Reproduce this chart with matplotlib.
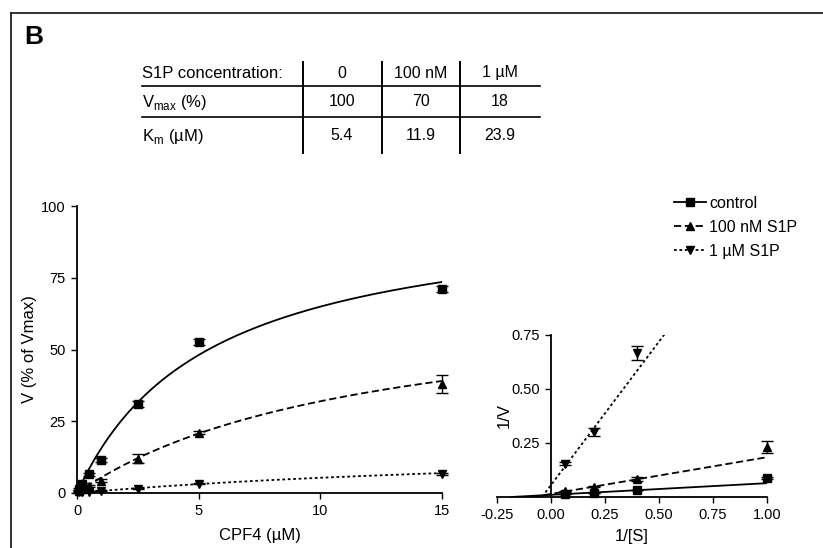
"""
Michaelis-Menten kinetics of CPF4 with S1P, plus Lineweaver-Burk inset.
"""
import numpy as np
import matplotlib
matplotlib.use("Agg")
import matplotlib.pyplot as plt
from matplotlib.lines import Line2D

plt.rcParams['font.family'] = ['Liberation Sans', 'DejaVu Sans']

W, H = 823, 548

# substrate concentrations (uM)
substrate = np.array([0.1, 0.2, 0.5, 1.0, 2.5, 5.0, 15.0])

# measured rates (% of Vmax) and errors
v_control = np.array([1.5, 3.0, 6.5, 11.5, 31.0, 52.5, 71.0])
e_control = np.array([0.4, 0.4, 0.5, 0.6, 1.0, 1.0, 1.0])
v_100nm = np.array([0.8, 1.5, 2.5, 4.3, 12.0, 21.0, 38.0])
e_100nm = np.array([0.2, 0.2, 0.3, 0.5, 1.5, 0.6, 3.0])
v_1um = np.array([0.2, 0.3, 0.5, 0.8, 1.5, 3.3, 6.5])
e_1um = np.array([0.05, 0.05, 0.08, 0.1, 0.07, 0.2, 0.3])

# table values (fit parameters)
conc_labels = ['0', '100 nM', '1 \u00b5M']
vmax_vals = [100, 70, 18]
km_vals = [5.4, 11.9, 23.9]

series_labels = ['control', '100 nM S1P', '1 \u00b5M S1P']
markers = ['s', '^', 'v']
linestyles = ['-', (0, (4, 2)), (0, (1.5, 1.5))]


def fx(px):
    return px / W


def fy(py):
    return 1 - py / H


fig = plt.figure(figsize=(W / 100, H / 100), dpi=100)

# panel border (top and left edges only visible)
fig.add_artist(Line2D([fx(11), 1.0], [fy(13), fy(13)], color='#222', lw=1.3))
fig.add_artist(Line2D([fx(11), fx(11)], [fy(13), 0.0], color='#222', lw=1.3))
fig.text(fx(24), fy(37), 'B', fontsize=19, fontweight='bold', va='center', ha='left')

# table
row_y = [73, 102, 136]
col_x = [342, 421, 500]
row_heads = ['S1P concentration:', 'V$_\\mathregular{max}$ (%)', 'K$_\\mathregular{m}$ (\u00b5M)']
rows = [conc_labels, [str(v) for v in vmax_vals], [str(k) for k in km_vals]]
for r, y in enumerate(row_y):
    fig.text(fx(142), fy(y), row_heads[r], fontsize=12, va='center', ha='left')
    for c, x in enumerate(col_x):
        fig.text(fx(x), fy(y), rows[r][c], fontsize=11.5, va='center', ha='center')
for y in [86, 117]:
    fig.add_artist(Line2D([fx(142), fx(540)], [fy(y), fy(y)], color='black', lw=1.2))
for x in [303, 382, 460]:
    fig.add_artist(Line2D([fx(x), fx(x)], [fy(62), fy(153)], color='black', lw=1.4))

# main Michaelis-Menten plot
ax = fig.add_axes([fx(77), fy(493), fx(442) - fx(77), fy(206) - fy(493)])
s_fit = np.linspace(0, 15, 300)
all_v = [v_control, v_100nm, v_1um]
all_e = [e_control, e_100nm, e_1um]
handles = []
for i in range(3):
    fit = vmax_vals[i] * s_fit / (km_vals[i] + s_fit)
    ax.plot(s_fit, fit, color='black', ls=linestyles[i], lw=1.3)
    ax.errorbar(substrate, all_v[i], yerr=all_e[i], fmt=markers[i], color='black',
                ms=6, capsize=4, elinewidth=1, clip_on=False)
    handles.append(Line2D([], [], color='black', ls=linestyles[i], lw=1.3,
                          marker=markers[i], ms=6))
ax.set_xlim(0, 15)
ax.set_ylim(0, 100)
ax.set_xticks([0, 5, 10, 15])
ax.set_yticks([0, 25, 50, 75, 100])
ax.spines['top'].set_visible(False)
ax.spines['right'].set_visible(False)
for sp in ['left', 'bottom']:
    ax.spines[sp].set_linewidth(1.3)
ax.tick_params(labelsize=10.5, length=4, width=1, pad=4)
ax.set_xlabel('CPF4 (\u00b5M)', fontsize=12, labelpad=7)
ax.set_ylabel('V (% of Vmax)', fontsize=12, labelpad=3)

# Lineweaver-Burk inset
ax2 = fig.add_axes([fx(497), fy(497), fx(767) - fx(497), fy(335) - fy(497)])
inv_s = 1 / substrate
x_fit = np.linspace(-0.25, 1.0, 300)
for i in range(3):
    km, vm = km_vals[i], vmax_vals[i]
    xs = x_fit[x_fit >= -1 / km]
    ax2.plot(xs, km / vm * xs + 1 / vm, color='black', ls=linestyles[i], lw=1.3)
    inv_v = 1 / all_v[i]
    inv_e = all_e[i] / all_v[i] ** 2
    keep = (inv_s <= 1.0) & (inv_v <= 0.75)
    ax2.errorbar(inv_s[keep], inv_v[keep], yerr=inv_e[keep], fmt=markers[i],
                 color='black', ms=6, capsize=4, elinewidth=1, clip_on=False)
ax2.set_xlim(-0.25, 1.0)
ax2.set_ylim(0, 0.75)
ax2.set_xticks([-0.25, 0, 0.25, 0.5, 0.75, 1.0])
ax2.set_xticklabels(['-0.25', '0.00', '0.25', '0.50', '0.75', '1.00'])
ax2.set_yticks([0.25, 0.5, 0.75])
ax2.set_yticklabels(['0.25', '0.50', '0.75'])
ax2.spines['left'].set_position(('data', 0))
ax2.spines['top'].set_visible(False)
ax2.spines['right'].set_visible(False)
for sp in ['left', 'bottom']:
    ax2.spines[sp].set_linewidth(1.3)
ax2.tick_params(labelsize=10.5, length=4, width=1, pad=4)
ax2.set_xlabel('1/[S]', fontsize=12, labelpad=5)
ax2.set_ylabel('1/V', fontsize=12)
ax2.yaxis.set_label_coords(0.055, 0.5)

fig.legend(handles, series_labels, loc='upper left', bbox_to_anchor=(fx(674), fy(196)),
           frameon=False, fontsize=11.5, handlelength=2.0, handletextpad=0.2,
           labelspacing=0.55, borderpad=0, borderaxespad=0)

fig.savefig('out.png', dpi=100)
